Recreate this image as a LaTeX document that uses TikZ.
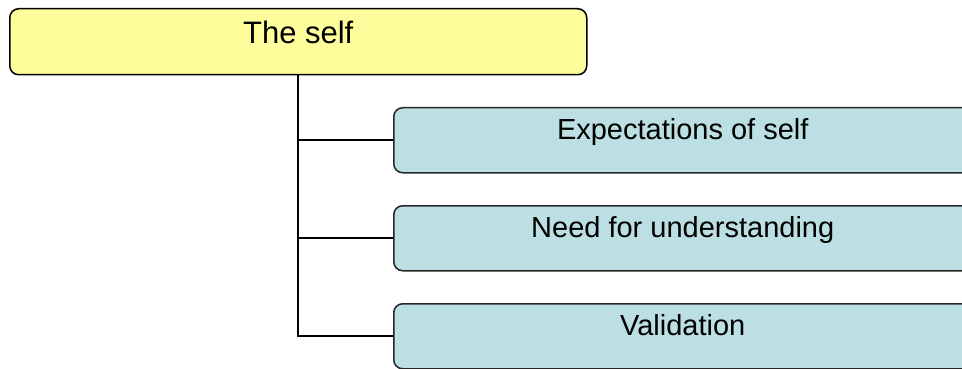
\documentclass[tikz,border=0pt]{standalone}
\usepackage{fontspec}
\setmainfont{Liberation Sans}
\usepackage{tikz}
\usetikzlibrary{
    positioning,  % better custom positioning
}
\definecolor{selfyellow}{HTML}{FDFD9C}
\definecolor{itemblue}{HTML}{BBDFE2}
\tikzset{
    headbox/.style={draw=black, line width=1.5pt, fill=selfyellow, rounded corners=9pt,
        anchor=north west, inner sep=0pt, minimum width=577pt,
        text height=35pt, text depth=31pt, font=\fontsize{31}{36}\selectfont},
    itembox/.style={draw=black!85, line width=1.5pt, fill=itemblue, rounded corners=9pt,
        anchor=north west, inner sep=0pt, minimum width=578pt,
        text height=32pt, text depth=33pt, font=\fontsize{29}{34}\selectfont},
    branch/.style={line width=2pt},
}

\begin{document}
\begin{tikzpicture}[x=1pt, y=-1pt]
            \useasboundingbox (0, 0) rectangle (962, 369);
            \clip (0, 0) rectangle (962, 369);
    
            \node[headbox] (self) at (9, 8) {The self};
    
            \node[itembox] (expect) at (393, 107) {Expectations of self};
            \node[itembox] (need) at (393, 205) {Need for understanding};
            \node[itembox] (valid) at (393, 303) {Validation};
            \draw[branch] (self.south) |- (valid.west);
            \draw[branch] (self.south) |- (expect.west);
            \draw[branch] (self.south) |- (need.west);
        \end{tikzpicture}
\end{document}
